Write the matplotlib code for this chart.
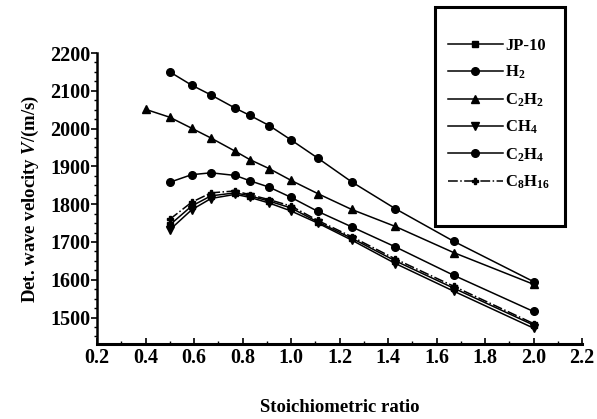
import matplotlib
matplotlib.use("Agg")
from matplotlib import pyplot as plt
from matplotlib.ticker import MultipleLocator
from matplotlib.patches import Rectangle

plt.rcParams['font.family'] = ['Liberation Serif', 'DejaVu Serif']
plt.rcParams['font.weight'] = 'bold'
plt.rcParams['mathtext.fontset'] = 'custom'
plt.rcParams['mathtext.rm'] = 'Liberation Serif:bold'
plt.rcParams['mathtext.it'] = 'Liberation Serif:italic:bold'

# stoichiometric ratios
ratio = [0.5, 0.59, 0.67, 0.77, 0.83, 0.91, 1.0, 1.11, 1.25, 1.43, 1.67, 2.0]
ratio_c2h2 = [0.4] + ratio

# detonation wave velocity, m/s
jp10 = [1745, 1795, 1822, 1830, 1822, 1808, 1790, 1753, 1710, 1650, 1578, 1480]
h2 = [2150, 2115, 2089, 2054, 2035, 2008, 1970, 1922, 1859, 1788, 1702, 1595]
c2h2 = [2051, 2030, 2001, 1975, 1940, 1918, 1894, 1863, 1828, 1786, 1741, 1672, 1588]
ch4 = [1732, 1785, 1815, 1826, 1818, 1803, 1782, 1750, 1705, 1643, 1570, 1472]
c2h4 = [1858, 1878, 1883, 1876, 1862, 1845, 1818, 1781, 1740, 1687, 1612, 1516]
c8h16 = [1760, 1805, 1830, 1835, 1825, 1812, 1795, 1757, 1714, 1655, 1583, 1484]

fig = plt.figure(figsize=(5.97, 4.19), dpi=100)
ax = fig.add_axes([0.1625, 0.179, 0.8125, 0.6945])

kw = dict(color='black', linewidth=1.1)
ax.plot(ratio, jp10, marker='s', markersize=4.5, label='JP-10', **kw)
ax.plot(ratio, h2, marker='o', markersize=5.5, label=r'H$_\mathregular{2}$', **kw)
ax.plot(ratio_c2h2, c2h2, marker='^', markersize=5.5,
        label=r'C$_\mathregular{2}$H$_\mathregular{2}$', **kw)
ax.plot(ratio, ch4, marker='v', markersize=5.5, label=r'CH$_\mathregular{4}$', **kw)
ax.plot(ratio, c2h4, marker='o', markersize=5.5,
        label=r'C$_\mathregular{2}$H$_\mathregular{4}$', **kw)
ax.plot(ratio, c8h16, marker='P', markersize=4, linestyle='-.',
        label=r'C$_\mathregular{8}$H$_\mathregular{16}$', **kw)

ax.set_xlim(0.2, 2.2)
ax.set_ylim(1430, 2200)
ax.set_xticks([0.2, 0.4, 0.6, 0.8, 1.0, 1.2, 1.4, 1.6, 1.8, 2.0, 2.2])
ax.set_yticks([1500, 1600, 1700, 1800, 1900, 2000, 2100, 2200])
ax.xaxis.set_minor_locator(MultipleLocator(0.1))
ax.yaxis.set_minor_locator(MultipleLocator(25))
ax.spines['top'].set_visible(False)
ax.spines['right'].set_visible(False)
ax.spines['left'].set_linewidth(1.8)
ax.spines['bottom'].set_linewidth(2.2)
ax.tick_params(axis='y', direction='out', length=4, width=1.2, labelsize=14.5, pad=1)
ax.tick_params(axis='y', which='minor', direction='out', length=2.5, width=1)
ax.tick_params(axis='x', direction='in', length=4, width=1.2, labelsize=14.5, pad=3)
ax.tick_params(axis='x', which='minor', direction='in', length=2, width=1)

ax.set_xlabel('Stoichiometric ratio', fontsize=13.5, fontweight='bold', labelpad=22)
ax.set_ylabel(r'Det. wave velocity $\mathit{V}$/(m/s)', fontsize=13.5,
              fontweight='bold', labelpad=6)

leg = fig.legend(loc='upper left', bbox_to_anchor=(0.725, 0.945), frameon=False,
                 fontsize=12, handlelength=3.3, labelspacing=0.6,
                 handletextpad=0.15)

fig.patches.append(Rectangle((0.729, 0.46), 0.218, 0.523, transform=fig.transFigure,
                             fill=False, edgecolor='black', linewidth=2.2))

fig.savefig("out.png", dpi=100)
